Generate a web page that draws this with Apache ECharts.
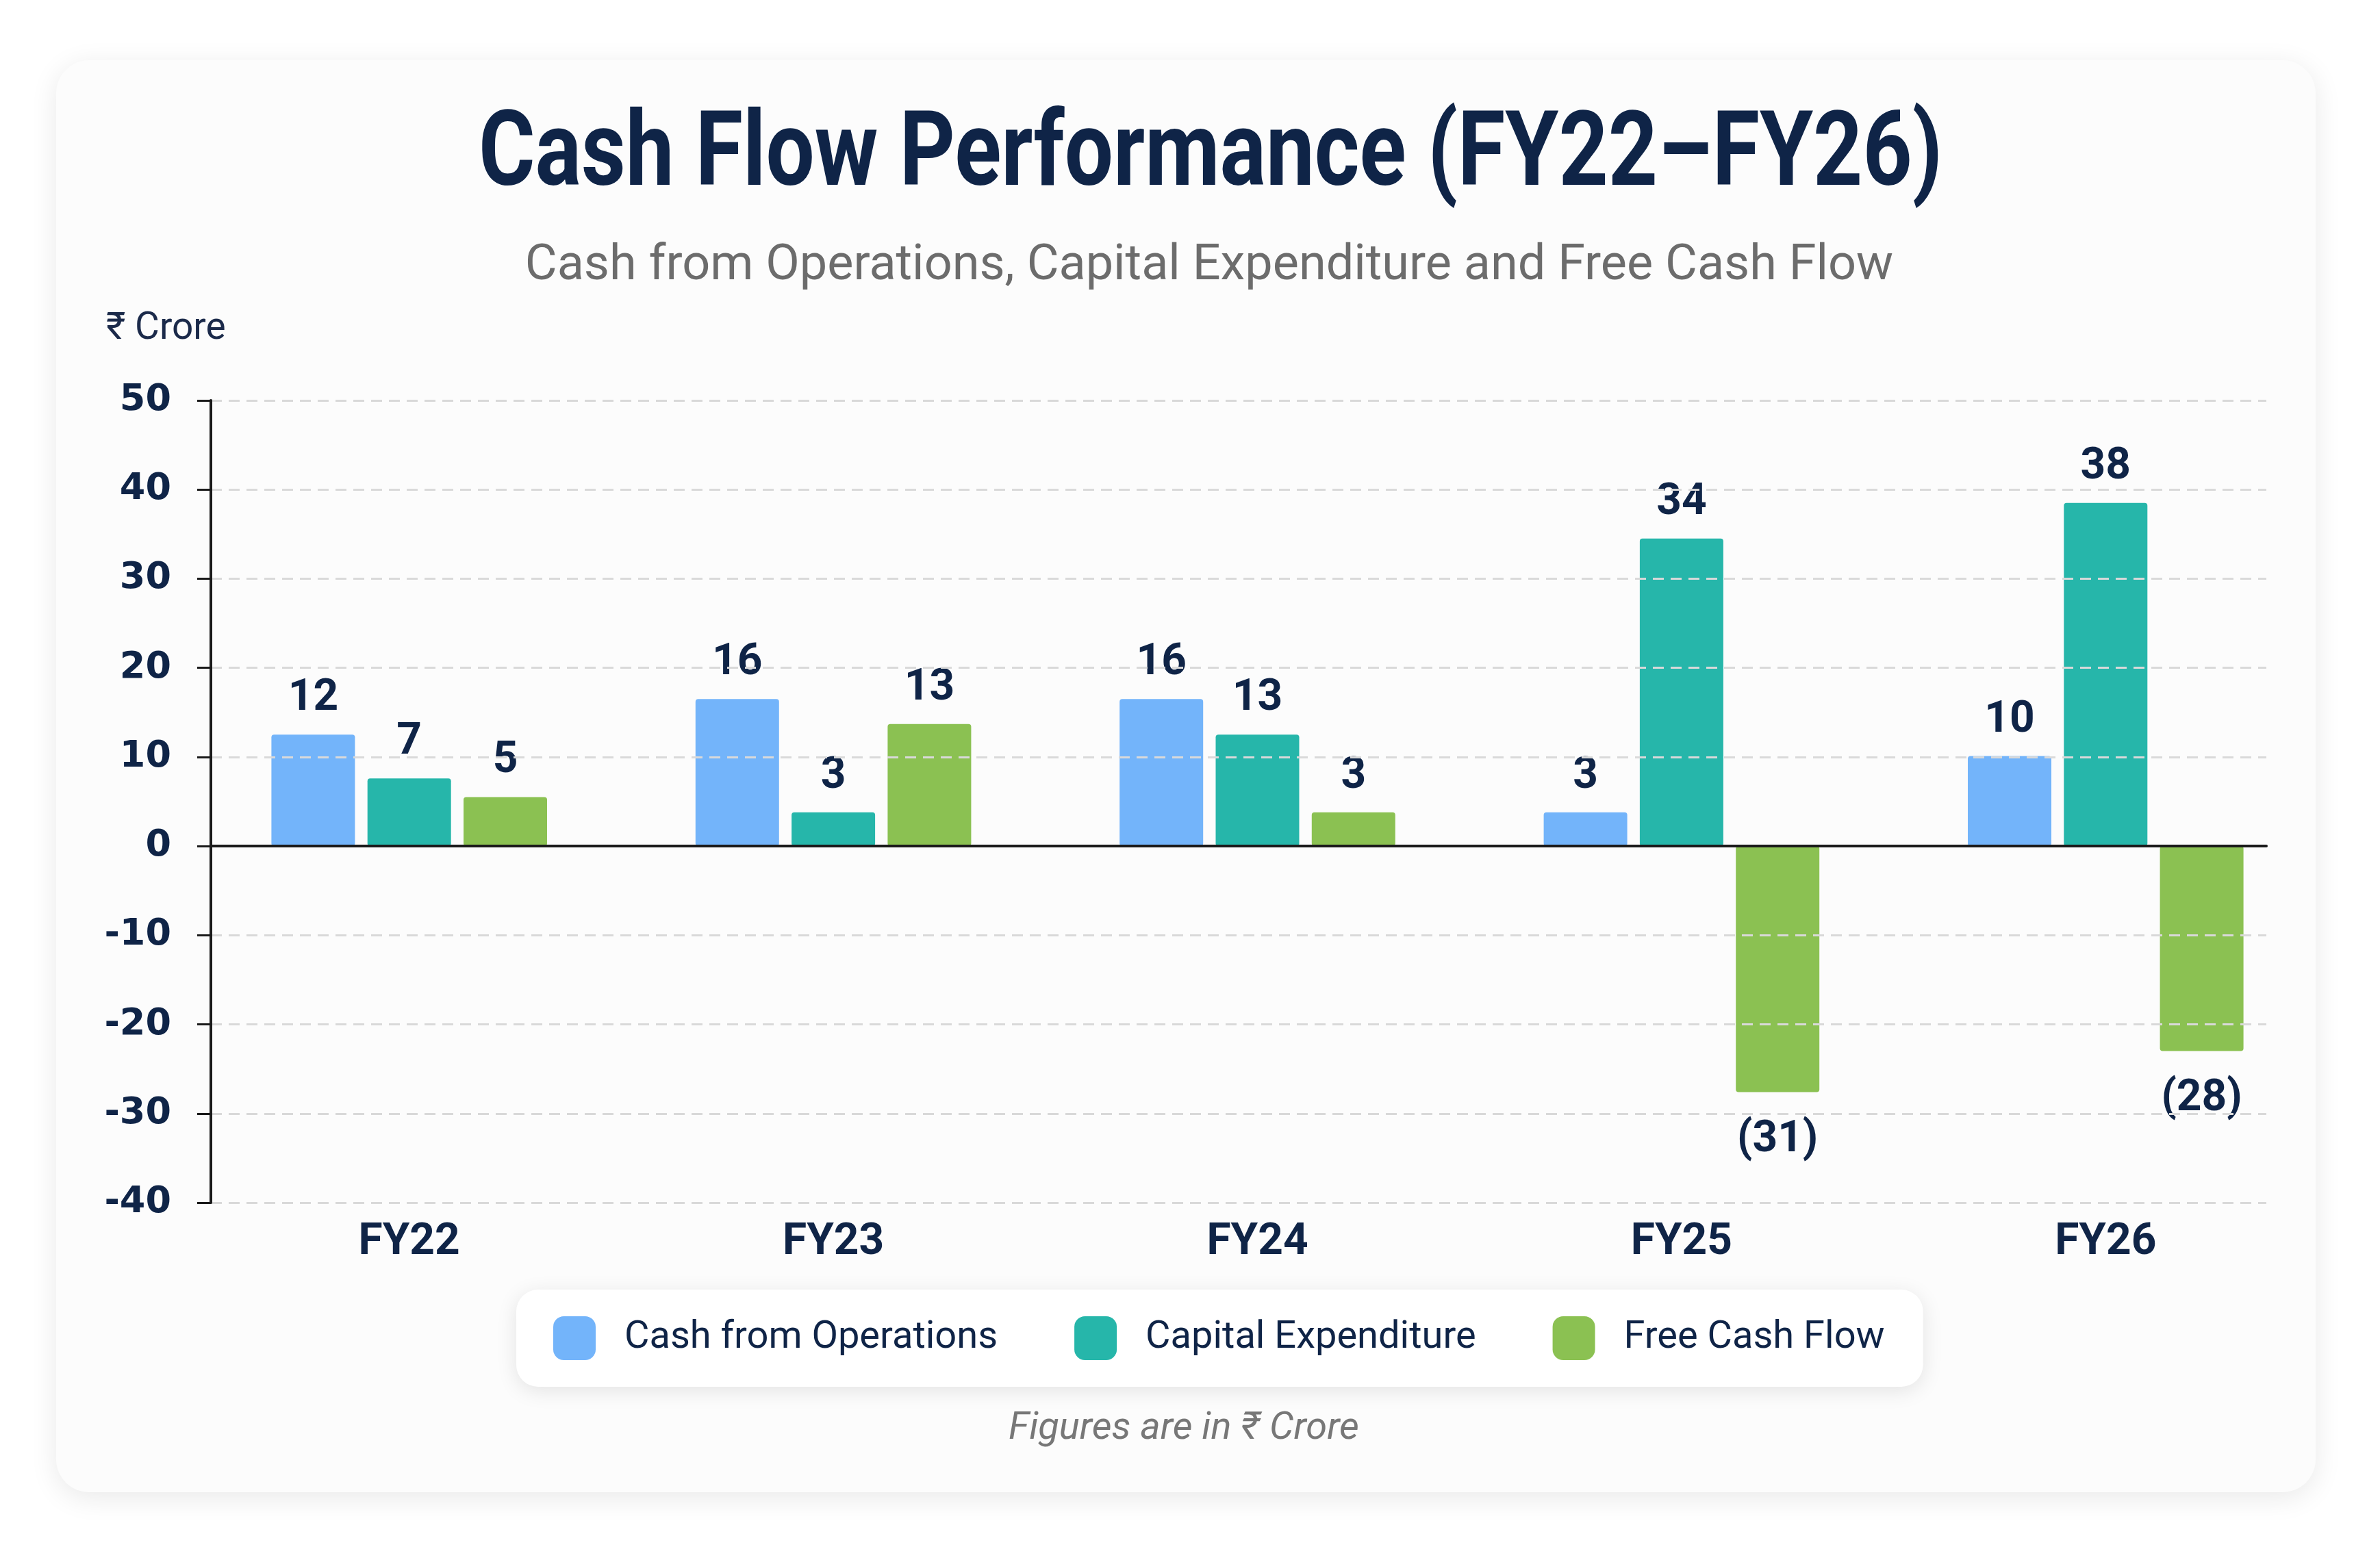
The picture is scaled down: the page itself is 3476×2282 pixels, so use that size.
<!DOCTYPE html>
<html>
<head>
<meta charset="utf-8">
<script src="https://cdn.jsdelivr.net/npm/echarts@6/dist/echarts.min.js"></script>
<style>
html,body{margin:0;padding:0;background:#ffffff;}
#chart{width:3476px;height:2282px;}
</style>
</head>
<body>
<div id="chart"></div>
<script>
// ---- data ----
const categories = ['FY22', 'FY23', 'FY24', 'FY25', 'FY26'];
const seriesNames = ['Cash from Operations', 'Capital Expenditure', 'Free Cash Flow'];
// bar heights as drawn
const cfoValues   = [12.5, 16.5, 16.5, 3.8, 10.1];
const capexValues = [7.6, 3.8, 12.5, 34.5, 38.5];
const fcfValues   = [5.5, 13.7, 3.8, -27.6, -23.0];
// printed value labels
const cfoLabels   = ['12', '16', '16', '3', '10'];
const capexLabels = ['7', '3', '13', '34', '38'];
const fcfLabels   = ['5', '13', '3', '(31)', '(28)'];
// y-axis ticks
const yTicks = [-40, -30, -20, -10, 0, 10, 20, 30, 40, 50];

// ---- styles ----
const NAVY = '#0f2447';
const colors = ['#73b4fa', '#26b6aa', '#8bc152'];

const chart = echarts.init(document.getElementById('chart'), null, {renderer: 'canvas'});

function barSeries(name, values, labels, color) {
  return {
    name: name,
    type: 'bar',
    xAxisIndex: 1,
    yAxisIndex: 1,
    barWidth: 122,
    barGap: '15%',
    z: 3,
    itemStyle: {color: color, borderRadius: 4},
    label: {
      show: true,
      distance: 20,
      color: NAVY,
      fontFamily: 'Roboto',
      fontWeight: 'bold',
      fontSize: 64,
      formatter: p => labels[p.dataIndex]
    },
    data: values.map(v => ({value: v, label: v < 0 ? {position: 'bottom', distance: 38} : {position: 'top'}}))
  };
}

const yMin = yTicks[0], yMax = yTicks[yTicks.length - 1], yInt = yTicks[1] - yTicks[0];

const option = {
  backgroundColor: '#ffffff',
  animation: false,
  graphic: [
    {
      type: 'rect', z: -10,
      shape: {x: 82, y: 88, width: 3300, height: 2092, r: 48},
      style: {fill: '#fcfcfc', shadowBlur: 40, shadowColor: 'rgba(0,0,0,0.09)', shadowOffsetY: 8}
    },
    {
      type: 'text', x: 1768, y: 232, scaleX: 0.83, scaleY: 1,
      style: {text: 'Cash Flow Performance (FY22–FY26)', textAlign: 'center', textVerticalAlign: 'middle',
        fill: NAVY, fontSize: 152, fontWeight: 'bold', fontFamily: 'Roboto'}
    },
    {
      type: 'text', x: 1766, y: 390,
      style: {text: 'Cash from Operations, Capital Expenditure and Free Cash Flow', textAlign: 'center', textVerticalAlign: 'middle',
        fill: '#6c6c6c', fontSize: 72, fontFamily: 'Roboto'}
    },
    {
      type: 'text', x: 155, y: 481,
      style: {text: '₹ Crore', textAlign: 'left', textVerticalAlign: 'middle',
        fill: '#1b2a4a', fontSize: 55, fontFamily: 'Roboto'}
    },
    {
      type: 'text', x: 1729, y: 2088,
      style: {text: 'Figures are in ₹ Crore', textAlign: 'center', textVerticalAlign: 'middle',
        fill: '#777777', fontSize: 56, fontStyle: 'italic', fontFamily: 'Roboto'}
    }
  ],
  legend: {
    data: seriesNames,
    left: 754,
    top: 1884,
    orient: 'horizontal',
    icon: 'roundRect',
    itemWidth: 62,
    itemHeight: 64,
    itemGap: 112,
    padding: [39, 56, 39, 54],
    backgroundColor: '#ffffff',
    borderRadius: 32,
    shadowBlur: 30,
    shadowColor: 'rgba(0,0,0,0.10)',
    shadowOffsetY: 6,
    textStyle: {fontSize: 56, color: NAVY, fontFamily: 'Roboto', padding: [0, 0, 0, 37]}
  },
  grid: [
    {left: 308, right: 166, top: 585, bottom: 525},
    {left: 288, right: 91, top: 585, bottom: 525}
  ],
  xAxis: [
    {
      type: 'category', gridIndex: 0, data: categories, z: 6,
      axisLine: {show: true, onZero: true, lineStyle: {color: '#1a1a1a', width: 4}},
      axisTick: {show: false}, axisLabel: {show: false}, splitLine: {show: false}
    },
    {
      type: 'category', gridIndex: 1, data: categories,
      axisLine: {show: false}, axisTick: {show: false},
      axisLabel: {show: true, color: NAVY, fontSize: 64, fontWeight: 'bold', fontFamily: 'Roboto', margin: 27},
      splitLine: {show: false}
    }
  ],
  yAxis: [
    {
      type: 'value', gridIndex: 0, min: yMin, max: yMax, interval: yInt, z: 6,
      axisLine: {show: true, lineStyle: {color: '#1a1a1a', width: 4}},
      axisTick: {show: true, length: 20, lineStyle: {color: '#1a1a1a', width: 3}},
      axisLabel: {color: NAVY, fontSize: 54, fontWeight: 'bold', fontFamily: "'DejaVu Sans'", margin: 58},
      splitLine: {show: true, lineStyle: {color: '#d9d9d9', width: 3, type: [16, 10]}}
    },
    {
      type: 'value', gridIndex: 1, min: yMin, max: yMax, interval: yInt, show: false,
      splitLine: {show: false}
    }
  ],
  series: [
    barSeries(seriesNames[0], cfoValues, cfoLabels, colors[0]),
    barSeries(seriesNames[1], capexValues, capexLabels, colors[1]),
    barSeries(seriesNames[2], fcfValues, fcfLabels, colors[2])
  ]
};
chart.setOption(option);
</script>
</body>
</html>
